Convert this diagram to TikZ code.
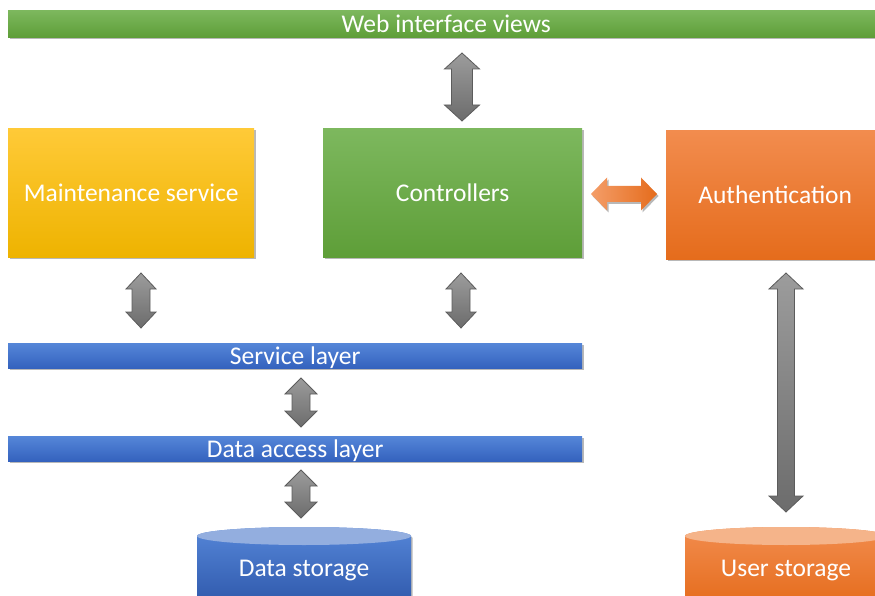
\documentclass[tikz,border=0pt]{standalone}
\usepackage{fontspec}
\setmainfont{Carlito}
\usetikzlibrary{shadows}

\definecolor{grnT}{HTML}{7DB85E}
\definecolor{grnB}{HTML}{5E9E38}
\definecolor{ylwT}{HTML}{FFCA38}
\definecolor{ylwB}{HTML}{EEB300}
\definecolor{orgT}{HTML}{F28C4E}
\definecolor{orgB}{HTML}{E56C1C}
\definecolor{bluT}{HTML}{5586D8}
\definecolor{bluB}{HTML}{3462BE}
\definecolor{bluLid}{HTML}{93AEDF}
\definecolor{orgLid}{HTML}{F5B48A}
\definecolor{gryT}{HTML}{9C9C9C}
\definecolor{gryB}{HTML}{6C6C6C}
\definecolor{gryLine}{HTML}{5C5C5C}

\tikzset{
  softshadow/.style={drop shadow={shadow xshift=1.5pt, shadow yshift=-2pt, opacity=0.28, fill=black}},
  labeltext/.style={text=white, font=\fontsize{25.5}{30}\selectfont,
    text height=18pt, text depth=0pt},
  block/.style={anchor=north west, inner sep=0pt, labeltext, softshadow},
  greenblock/.style={block, top color=grnT, bottom color=grnB},
  yellowblock/.style={block, top color=ylwT, bottom color=ylwB},
  orangeblock/.style={block, top color=orgT, bottom color=orgB},
  blueblock/.style={block, top color=bluT, bottom color=bluB},
  label/.style={labeltext, inner sep=0pt},
  grayarrow/.style={draw=gryLine, line width=0.8pt, line join=miter,
    top color=gryT, bottom color=gryB},
  orangearrow/.style={draw=none, left color=orgT!85!white, right color=orgB, softshadow},
}

% vertical double block arrow: x, top tip y, bottom tip y, half shaft, half head, head length
\newcommand\vdblarrow[6]{%
  \shadedraw[grayarrow]
    (#1,#2) -- (#1+#5,#2+#6) -- (#1+#4,#2+#6) -- (#1+#4,#3-#6)
    -- (#1+#5,#3-#6) -- (#1,#3) -- (#1-#5,#3-#6) -- (#1-#4,#3-#6)
    -- (#1-#4,#2+#6) -- (#1-#5,#2+#6) -- cycle;}

\begin{document}
\begin{tikzpicture}[x=1pt, y=-1pt]
  \useasboundingbox (0,0) rectangle (875,596);
  \clip (0,0) rectangle (875,596);

  % top bar
  \node[greenblock, minimum width=876pt, minimum height=27pt] (web) at (8,10) {Web interface views};

  % middle row
  \node[yellowblock, minimum width=246pt, minimum height=129pt] (maint) at (8,128) {Maintenance service};
  \node[greenblock, minimum width=259pt, minimum height=129pt] (ctrl) at (323,128) {Controllers};
  \node[orangeblock, minimum width=218pt, minimum height=129pt] (auth) at (666,130) {Authentication};

  % layers
  \node[blueblock, minimum width=574pt, minimum height=25pt] (svc) at (8,343) {Service layer};
  \node[blueblock, minimum width=574pt, minimum height=25pt] (dal) at (8,436) {Data access layer};

  % data storage cylinder
  \shade[top color=bluT, bottom color=bluB!90!black, softshadow]
    (197,536) -- (197,605) -- (411,605) -- (411,536) arc[start angle=0, end angle=-180, x radius=107, y radius=9] -- cycle;
  \fill[bluLid] (304,536) ellipse[x radius=107, y radius=9];
  \coordinate (dstop) at (304,527);
  \node[label] (dstore) at (304,567) {Data storage};

  % user storage cylinder
  \shade[top color=orgT, bottom color=orgB, softshadow]
    (685,536) -- (685,605) -- (887,605) -- (887,536) arc[start angle=0, end angle=-180, x radius=101, y radius=9] -- cycle;
  \fill[orgLid] (786,536) ellipse[x radius=101, y radius=9];
  \coordinate (ustop) at (786,527);
  \node[label] (ustore) at (786,567) {User storage};

  % connectors between the blocks
  \vdblarrow{462}{53}{121}{10.5}{17.5}{16}
  \vdblarrow{141}{273}{328}{9}{15}{16}
  \vdblarrow{461}{273}{328}{9}{15}{16}
  \vdblarrow{301}{378}{427}{9}{16}{16}
  \vdblarrow{301}{470}{518}{9}{16}{16}
  \vdblarrow{786}{273}{512}{8.5}{17}{16}

  \shade[orangearrow]
    (591,194) -- (607,177.5) -- (607,186) -- (641,186) -- (641,177.5) -- (657,194)
    -- (641,210.5) -- (641,202) -- (607,202) -- (607,210.5) -- cycle;
\end{tikzpicture}
\end{document}
